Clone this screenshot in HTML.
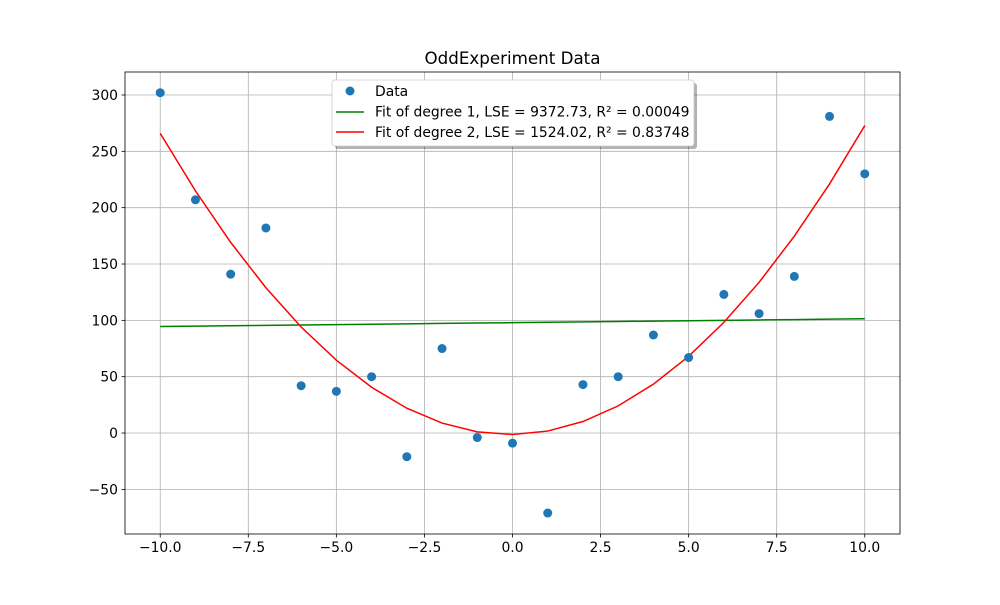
<!DOCTYPE html>
<html><head><meta charset="utf-8"><style>
body{margin:0;background:#fff}
svg text{font-family:"DejaVu Sans","Liberation Sans",sans-serif}
</style></head><body>
<svg id="c" width="1000" height="600" xmlns="http://www.w3.org/2000/svg"></svg>
<script>
const xs=[-10,-9,-8,-7,-6,-5,-4,-3,-2,-1,0,1,2,3,4,5,6,7,8,9,10];
const ys=[302,207,141,182,42,37,50,-21,75,-4,-9,-71,43,50,87,67,123,106,139,281,230];
const xTicks=[-10,-7.5,-5,-2.5,0,2.5,5,7.5,10];
const xTickLabels=["−10.0","−7.5","−5.0","−2.5","0.0","2.5","5.0","7.5","10.0"];
const yTicks=[-50,0,50,100,150,200,250,300];
const yTickLabels=["−50","0","50","100","150","200","250","300"];
const legendLabels=["Data","Fit of degree 1, LSE = 9372.73, R² = 0.00049","Fit of degree 2, LSE = 1524.02, R² = 0.83748"];

const L=125,R=900,T=72,B=534,x0=-11,x1=11,y0=-89.6,y1=320.4;
const sx=v=>L+(v-x0)/(x1-x0)*(R-L);
const sy=v=>B-(v-y0)/(y1-y0)*(B-T);
const svg=document.getElementById('c');
const NS='http://www.w3.org/2000/svg';
function mk(t,a,p){const e=document.createElementNS(NS,t);for(const k in a)e.setAttribute(k,a[k]);(p||svg).appendChild(e);return e;}

function polyfit(deg){
  const n=deg+1;const A=[];for(let i=0;i<n;i++){A.push(new Array(n+1).fill(0));}
  for(let k=0;k<xs.length;k++){for(let i=0;i<n;i++){for(let j=0;j<n;j++)A[i][j]+=Math.pow(xs[k],i+j);A[i][n]+=ys[k]*Math.pow(xs[k],i);}}
  for(let i=0;i<n;i++){for(let r=i+1;r<n;r++){const f=A[r][i]/A[i][i];for(let c=i;c<=n;c++)A[r][c]-=f*A[i][c];}}
  const co=new Array(n).fill(0);
  for(let i=n-1;i>=0;i--){let s=A[i][n];for(let j=i+1;j<n;j++)s-=A[i][j]*co[j];co[i]=s/A[i][i];}
  return x=>co.reduce((s,c,i)=>s+c*Math.pow(x,i),0);
}

const g=mk('g',{});


xTicks.forEach((t,i)=>{
  const X=sx(t);
  mk('line',{x1:X,x2:X,y1:T,y2:B,stroke:'#b0b0b0','stroke-width':0.8},g);
  mk('line',{x1:X,x2:X,y1:B,y2:B+3.5,stroke:'#000','stroke-width':0.8});
  const tx=mk('text',{x:X,y:B+18,'font-size':13.9,'text-anchor':'middle'});
  
  
  tx.textContent=xTickLabels[i];
});
yTicks.forEach((t,i)=>{
  const Y=sy(t);
  mk('line',{x1:L,x2:R,y1:Y,y2:Y,stroke:'#b0b0b0','stroke-width':0.8},g);
  mk('line',{x1:L-3.5,x2:L,y1:Y,y2:Y,stroke:'#000','stroke-width':0.8});
  const tx=mk('text',{x:L-7,y:Y+5,'font-size':13.9,'text-anchor':'end'});
  
  
  tx.textContent=yTickLabels[i];
});

const f1=polyfit(1),f2=polyfit(2);
[[f1,'green','fit-degree-1'],[f2,'red','fit-degree-2']].forEach(([f,c,n])=>{
  const p=mk('polyline',{points:xs.map(x=>sx(x)+','+sy(f(x))).join(' '),fill:'none',stroke:c,'stroke-width':1.5});
  
  
});
xs.forEach((x,i)=>{
  const d=mk('circle',{cx:sx(x),cy:sy(ys[i]),r:4.5,fill:'#1f77b4'});
  
  
});

const fr=mk('rect',{x:L,y:T,width:R-L,height:B-T,fill:'none',stroke:'#000','stroke-width':0.8});



const ti=mk('text',{x:(L+R)/2,y:64,'font-size':16.7,'text-anchor':'middle'});


ti.textContent='OddExperiment Data';

const lg=mk('g',{});


mk('rect',{x:335,y:83,width:362,height:66,rx:3,fill:'#000','fill-opacity':0.3},lg);
mk('rect',{x:332,y:80,width:362,height:66,rx:3,fill:'#fff',stroke:'#ccc','stroke-width':0.8},lg);
mk('circle',{cx:350,cy:91,r:4.5,fill:'#1f77b4'},lg);
mk('line',{x1:336,x2:364,y1:112,y2:112,stroke:'green','stroke-width':1.5},lg);
mk('line',{x1:336,x2:364,y1:132,y2:132,stroke:'red','stroke-width':1.5},lg);
legendLabels.forEach((s,i)=>{
  const t=mk('text',{x:375,y:96+i*20.5,'font-size':13.9},lg);
  
  
  t.textContent=s;
});
</script>
</body></html>
